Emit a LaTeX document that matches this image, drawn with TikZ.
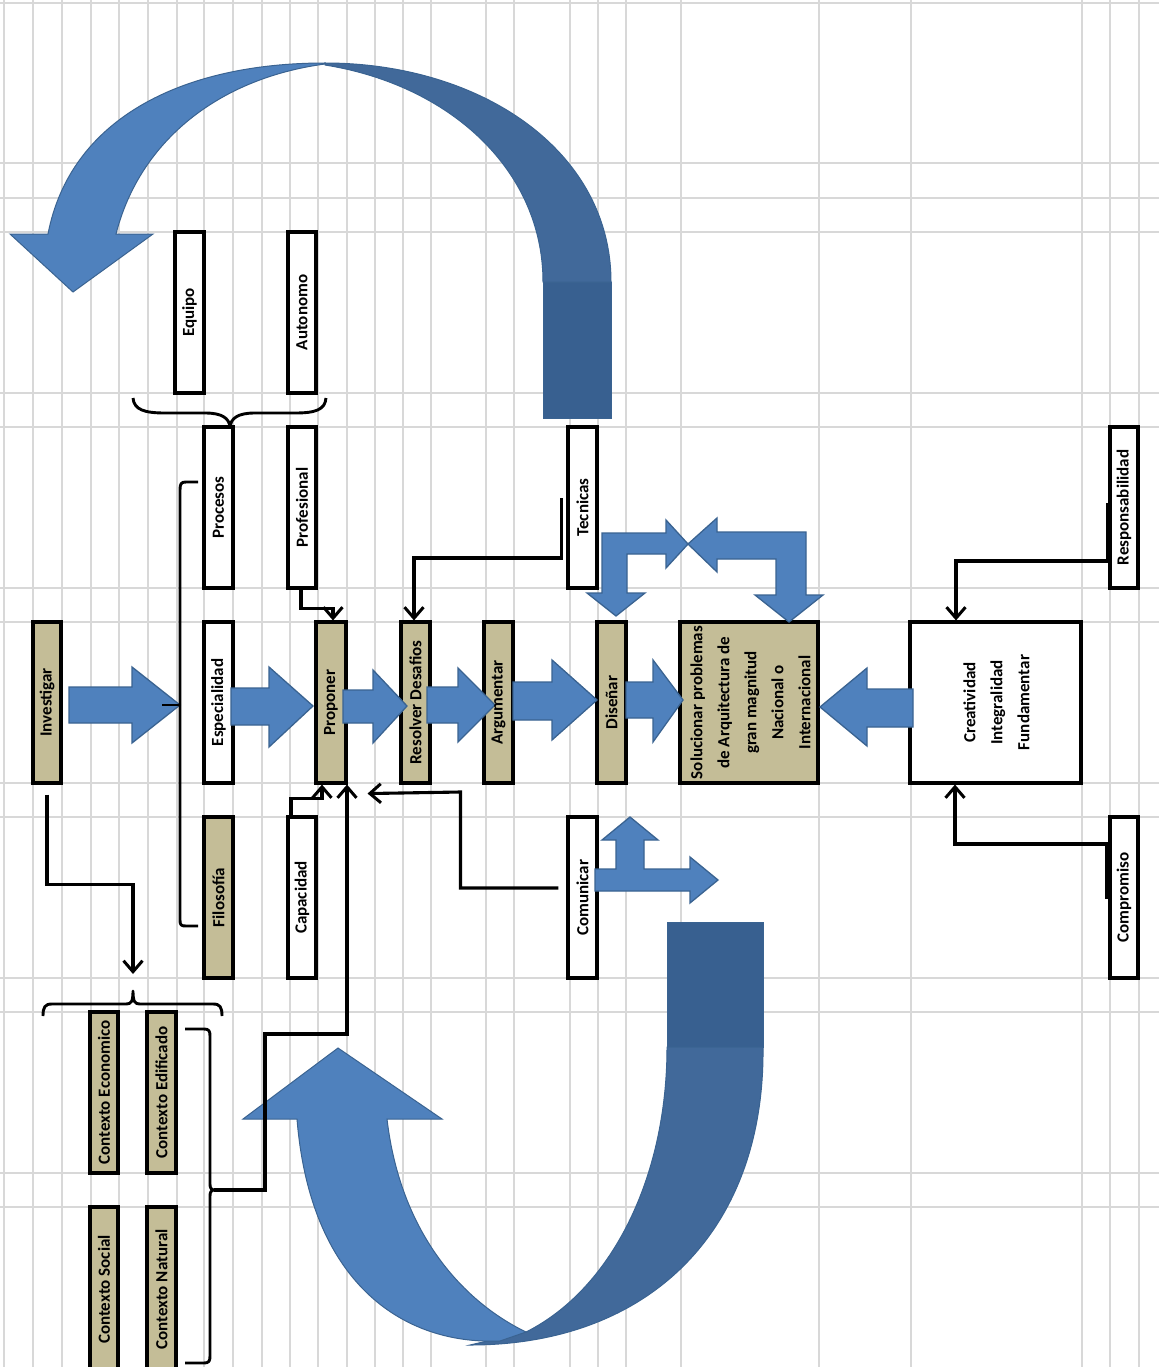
\documentclass[tikz,border=0pt]{standalone}
\usepackage{fontspec}
\setmainfont{Carlito}
\usepackage{graphicx}
\usetikzlibrary{arrows.meta}
\definecolor{tanc}{HTML}{C4BD97}
\definecolor{blueL}{HTML}{4F81BD}
\definecolor{blueM}{HTML}{41699A}
\definecolor{blueD}{HTML}{386090}
\definecolor{blueB}{HTML}{3A6391}
\definecolor{gridc}{HTML}{D8D8D8}
\begin{document}
\begin{tikzpicture}[x=1pt,y=-1pt,
  gridline/.style={draw=gridc, line width=1.5pt},
  wbox/.style={draw=black, fill=white, line width=3.1pt, inner sep=0pt, minimum width=29, minimum height=161},
  tbox/.style={wbox, fill=tanc},
  barrow/.style={fill=blueL, draw=blueB, line width=1.3pt, line join=miter},
  cpart/.style={draw=blueB, line width=1pt},
  conn/.style={draw=black, line width=3.1pt, line join=miter, -{Straight Barb[length=11pt,width=19pt,line width=3pt]}},
  brace/.style={draw=black, line width=2.9pt, line join=round},
  lbl/.style={font=\fontsize{17}{27}\selectfont\bfseries, inner sep=0pt, align=center}]

\useasboundingbox (0,0) rectangle (1159,1367);
\clip (0,0) rectangle (1159,1367);
\fill[white] (0,0) rectangle (1159,1367);

% grid
\foreach \gx in {4,33,62,91,119,148,177,204,233,262,290,318,347,375,403,431,486,514,570,598,626,681,819,911,1082,1110,1139}
  \draw[gridline] (\gx,0) -- (\gx,1367);
\foreach \gy in {3,163,198,232,393,427,588,622,783,817,978,1012,1173,1207}
  \draw[gridline] (0,\gy) -- (1159,\gy);

% top curved arrow
\filldraw[fill=blueD, cpart] (543,282) rectangle (611,418);
\filldraw[fill=blueM, cpart] (325,63) .. controls (480,63) and (611,150) .. (611,282) -- (543,282) .. controls (543,170) and (450,85) .. (325,65) -- cycle;
\filldraw[fill=blueL, cpart] (325,64) .. controls (220,78) and (140,140) .. (116,234) -- (153,234) -- (73,292) -- (10,234) -- (48,234) .. controls (70,120) and (180,63) .. (325,63) -- cycle;

% bottom curved arrow
\filldraw[fill=blueD, cpart] (667,922) rectangle (763,1047);
\filldraw[fill=blueM, cpart] (763,1047) .. controls (765,1230) and (650,1345) .. (470,1345) -- (526,1332) .. controls (610,1290) and (667,1180) .. (667,1047) -- cycle;
\filldraw[fill=blueL, cpart] (526,1332) .. controls (460,1300) and (400,1230) .. (387,1119) -- (442,1119) -- (338,1048) -- (243,1119) -- (297,1119) .. controls (310,1280) and (400,1345) .. (500,1341) -- cycle;

% boxes
\node[tbox, minimum width=28] (inv) at (47,702.5) {};
\node[wbox] (eq) at (189.5,312.5) {};
\node[wbox, minimum width=28] (aut) at (302,312.5) {};
\node[wbox] (pro) at (218.5,507.5) {};
\node[wbox, minimum width=28] (prf) at (302,507.5) {};
\node[wbox] (tec) at (582.5,507.5) {};
\node[wbox, minimum width=28] (res) at (1124,507.5) {};
\node[wbox] (esp) at (218.5,702.5) {};
\node[tbox, minimum width=30] (prop) at (331,702.5) {};
\node[tbox] (rdes) at (415.5,702.5) {};
\node[tbox] (arg) at (498.5,702.5) {};
\node[tbox] (dis) at (611.5,702.5) {};
\node[tbox, minimum width=138] (sol) at (749,702.5) {};
\node[wbox, minimum width=171] (cre) at (995.5,702.5) {};
\node[tbox] (fil) at (218.5,897.5) {};
\node[wbox, minimum width=28] (cap) at (302,897.5) {};
\node[wbox] (com) at (582.5,897.5) {};
\node[wbox, minimum width=28] (cmp) at (1124,897.5) {};
\node[tbox, minimum width=28] (ceco) at (104,1092.5) {};
\node[tbox] (cedi) at (161.5,1092.5) {};
\node[tbox, minimum width=28, minimum height=165] (csoc) at (104,1289.5) {};
\node[tbox, minimum height=165] (cnat) at (161.5,1289.5) {};

% block arrows
\filldraw[barrow] (69,687) -- (132,687) -- (132,667) -- (180,705) -- (132,743) -- (132,723) -- (69,723) -- cycle;
\filldraw[barrow] (231,688) -- (269,688) -- (269,667) -- (313,706) -- (269,747) -- (269,725) -- (231,725) -- cycle;
\filldraw[barrow] (343,690) -- (373,690) -- (373,670) -- (407,706) -- (373,743) -- (373,723) -- (343,723) -- cycle;
\filldraw[barrow] (427,687) -- (458,687) -- (458,668) -- (495,705) -- (458,742) -- (458,723) -- (427,723) -- cycle;
\filldraw[barrow] (513,682) -- (552,682) -- (552,660) -- (597,700) -- (552,740) -- (552,720) -- (513,720) -- cycle;
\filldraw[barrow] (626,682) -- (653,682) -- (653,660) -- (683,700) -- (653,742) -- (653,718) -- (626,718) -- cycle;
\filldraw[barrow] (913,689) -- (867,689) -- (867,668) -- (820,707) -- (867,746) -- (867,727) -- (913,727) -- cycle;
% bent arrows above Disenar / Solucionar
\filldraw[barrow] (616,616) -- (645,593) -- (627,593) -- (627,554) -- (666,554) -- (666,568) -- (688,544) -- (666,520) -- (666,533) -- (602,533) -- (602,593) -- (587,593) -- cycle;
\filldraw[barrow] (688,544) -- (717,518) -- (717,532) -- (806,532) -- (806,595) -- (823,595) -- (789,622) -- (755,595) -- (776,595) -- (776,559) -- (717,559) -- (717,572) -- cycle;
% Comunicar bent arrow
\filldraw[barrow] (595,869) -- (616,869) -- (616,840) -- (602,840) -- (630,817) -- (658,840) -- (644,840) -- (644,869) -- (690,869) -- (690,857) -- (718,880) -- (690,903) -- (690,891) -- (595,891) -- cycle;

% braces
\draw[brace] (133,398) .. controls (134,410) and (145,413) .. (165,413) -- (205,413) .. controls (222,413) and (229,418) .. (230,427) .. controls (231,418) and (238,413) .. (255,413) -- (295,413) .. controls (315,413) and (325,410) .. (326,398);
\draw[brace] (198,482) -- (186,482) .. controls (181,482) and (180,484) .. (180,490) -- (180,920) .. controls (180,925) and (181,926) .. (186,926) -- (198,926);
\draw[brace] (162,705) -- (180,705);
\draw[brace] (43,1016) .. controls (43,1007) and (45,1004) .. (52,1004) -- (126,1004) .. controls (131,1004) and (133,1002) .. (133,991) .. controls (133,1002) and (135,1004) .. (140,1004) -- (213,1004) .. controls (220,1004) and (222,1007) .. (222,1016);
\draw[brace] (185,1029) -- (204,1029) .. controls (209,1029) and (210,1031) .. (210,1036) -- (210,1184) .. controls (210,1188) and (211,1190) .. (215,1190) .. controls (211,1190) and (210,1192) .. (210,1196) -- (210,1356) .. controls (210,1361) and (209,1363) .. (204,1363) -- (185,1363);
\coordinate (bt2) at (214,1190);
\coordinate (ctop) at (133,974);

% connectors
\draw[conn] ([xshift=-1pt]prf.south) -- ++(0,19) -| ([xshift=2pt]prop.north);
\draw[conn] ([xshift=-5pt,yshift=9.5pt]tec.west) -- ++(0,60) -| ([xshift=-1.5pt]rdes.north);
\draw[conn] ([xshift=-11pt]cap.north) -- ++(0,-17) -| ([xshift=-9pt]prop.south);
\draw[conn] (bt2) -- ++(51,0) -- ++(0,-156) -| ([xshift=16pt]prop.south);
\draw[conn] ([xshift=-8pt,yshift=9.5pt]com.west) -| ++(-98,-96) -- ([xshift=20pt,yshift=-9pt]prop.south east);
\draw[conn] ([yshift=-10pt]inv.south) -- ++(0,90) -| (ctop);
\draw[conn] ([xshift=-1pt,yshift=4.5pt]res.west) -- ++(0,58) -| ([xshift=-39.5pt]cre.north);
\draw[conn] ([xshift=-2pt,yshift=-1.5pt]cmp.west) -- ++(0,-55) -| ([xshift=-40.5pt]cre.south);

% labels
\node[lbl] (inv-t) at (inv.center) {\rotatebox{90}{Investigar}};
\node[lbl] (eq-t) at (eq.center) {\rotatebox{90}{Equipo}};
\node[lbl] (aut-t) at (aut.center) {\rotatebox{90}{Autonomo}};
\node[lbl] (pro-t) at (pro.center) {\rotatebox{90}{Procesos}};
\node[lbl] (prf-t) at (prf.center) {\rotatebox{90}{Profesional}};
\node[lbl] (tec-t) at (tec.center) {\rotatebox{90}{Tecnicas}};
\node[lbl] (res-t) at (res.center) {\rotatebox{90}{Responsabilidad}};
\node[lbl] (esp-t) at (esp.center) {\rotatebox{90}{Especialidad}};
\node[lbl] (prop-t) at (prop.center) {\rotatebox{90}{Proponer}};
\node[lbl] (rdes-t) at (rdes.center) {\rotatebox{90}{Resolver Desafios}};
\node[lbl] (arg-t) at (arg.center) {\rotatebox{90}{Argumentar}};
\node[lbl] (dis-t) at (dis.center) {\rotatebox{90}{Diseñar}};
\node[lbl] (sol-t) at ([xshift=2pt]sol.center) {\rotatebox{90}{\begin{tabular}{@{}c@{}}Solucionar problemas\\de Arquitectura de\\gran magnitud\\Nacional o\\Internacional\end{tabular}}};
\node[lbl] (cre-t) at ([xshift=1.5pt]cre.center) {\rotatebox{90}{\begin{tabular}{@{}c@{}}Creatividad\\Integralidad\\Fundamentar\end{tabular}}};
\node[lbl] (fil-t) at (fil.center) {\rotatebox{90}{Filosofía}};
\node[lbl] (cap-t) at (cap.center) {\rotatebox{90}{Capacidad}};
\node[lbl] (com-t) at (com.center) {\rotatebox{90}{Comunicar}};
\node[lbl] (cmp-t) at (cmp.center) {\rotatebox{90}{Compromiso}};
\node[lbl] (ceco-t) at (ceco.center) {\rotatebox{90}{Contexto Economico}};
\node[lbl] (cedi-t) at (cedi.center) {\rotatebox{90}{Contexto Edificado}};
\node[lbl] (csoc-t) at (csoc.center) {\rotatebox{90}{Contexto Social}};
\node[lbl] (cnat-t) at (cnat.center) {\rotatebox{90}{Contexto Natural}};
\end{tikzpicture}
\end{document}
